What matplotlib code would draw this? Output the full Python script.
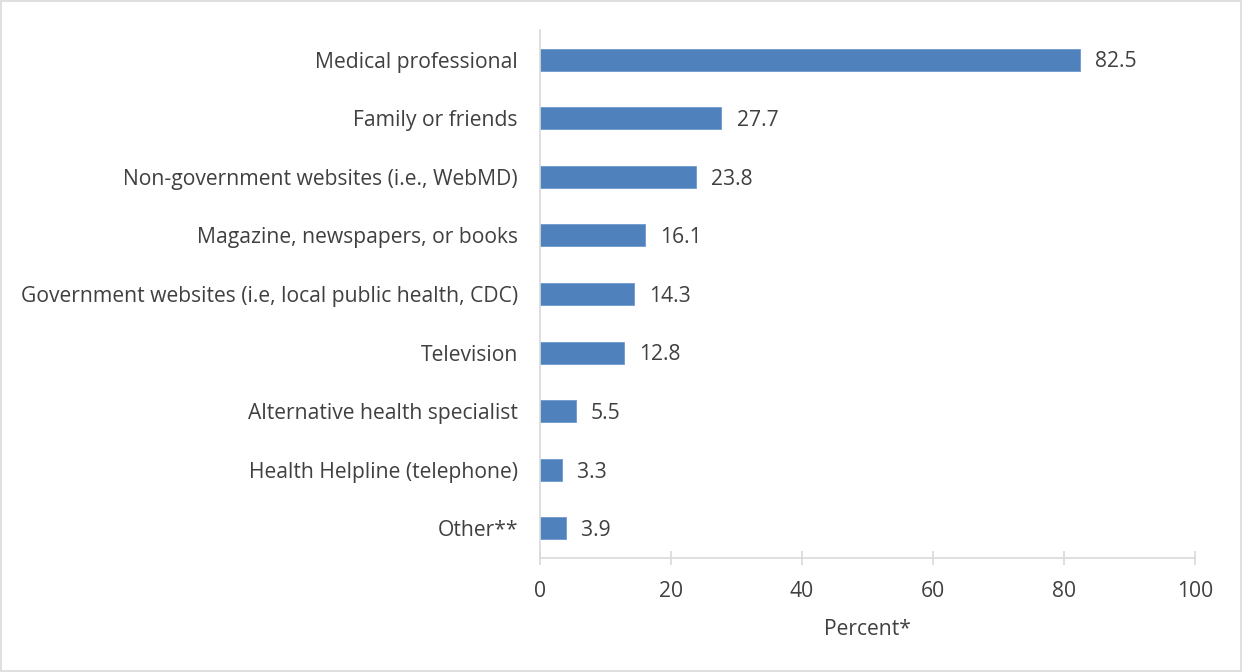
import matplotlib
matplotlib.use("Agg")
import matplotlib.pyplot as plt
from matplotlib.patches import Rectangle

plt.rcParams['font.family'] = ['Open Sans', 'DejaVu Sans']

categories = ["Medical professional", "Family or friends",
              "Non-government websites (i.e., WebMD)",
              "Magazine, newspapers, or books",
              "Government websites (i.e, local public health, CDC)",
              "Television", "Alternative health specialist",
              "Health Helpline (telephone)", "Other**"]
values = [82.5, 27.7, 23.8, 16.1, 14.3, 12.8, 5.5, 3.3, 3.9]
xticks = [0, 20, 40, 60, 80, 100]

txt = "#404040"
grid = "#d9d9d9"
fs = 15.2

fig = plt.figure(figsize=(12.42, 6.72), dpi=100)
ax = fig.add_axes([0.4348, 0.170, 0.9622 - 0.4348, 0.955 - 0.170])

pos = list(range(len(categories)))
ax.barh(pos, values, height=0.375, color="#4f81bd", edgecolor="#6f98cc", linewidth=0.6)
for p, v in zip(pos, values):
    ax.text(v + 2.3, p + 0.04, f"{v:.1f}", va="center", ha="left", fontsize=fs, color=txt)

ax.set_ylim(len(categories) - 0.5, -0.5)
ax.set_xlim(0, 100)
ax.set_yticks(pos)
ax.set_yticklabels(categories, fontsize=fs, color=txt)
ax.tick_params(axis="y", length=0, pad=16)
ax.set_xticks(xticks)
ax.set_xticklabels([str(t) for t in xticks], fontsize=fs, color=txt)
ax.tick_params(axis="x", direction="inout", length=10, color=grid, width=1.2, pad=12)
ax.set_xlabel("Percent*", fontsize=fs, color=txt, labelpad=12)

for s in ["top", "right"]:
    ax.spines[s].set_visible(False)
ax.spines["left"].set_color(grid)
ax.spines["bottom"].set_color(grid)
ax.spines["left"].set_linewidth(1.2)
ax.spines["bottom"].set_linewidth(1.2)

# light border around the chart area
fig.patches.append(Rectangle((0.001, 0.001), 0.998, 0.997, transform=fig.transFigure,
                             fill=False, edgecolor="#d9d9d9", linewidth=1.2))

fig.savefig("out.png", dpi=100)
